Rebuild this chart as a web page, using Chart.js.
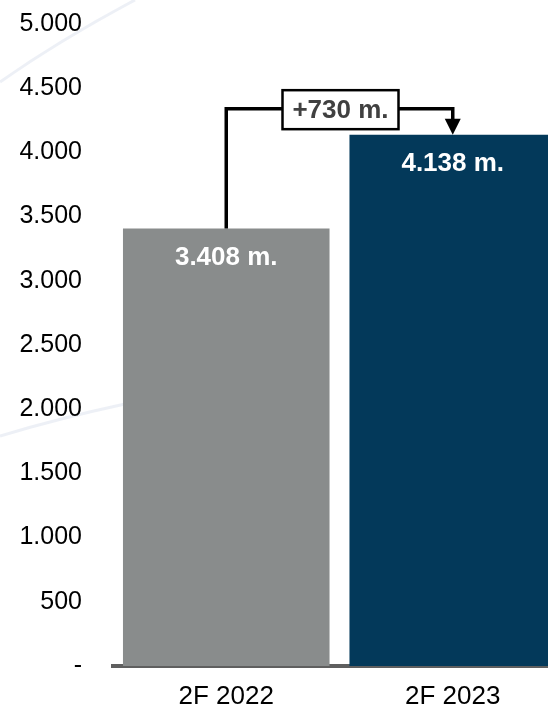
<!DOCTYPE html>
<html>
<head>
<meta charset="utf-8">
<script src="https://cdn.jsdelivr.net/npm/chart.js@4.4.1/dist/chart.umd.min.js"></script>
<style>
  html, body { margin: 0; padding: 0; background: #ffffff; overflow: hidden; }
  #wrap { position: relative; width: 566px; height: 707px; }
</style>
</head>
<body>
<div id="wrap"><canvas id="c"></canvas></div>
<script>
// ---- data ----
const categories = ['2F 2022', '2F 2023'];
const values = [3408, 4138];
const barColors = ['#898c8c', '#03395a'];
const yTicks = [0, 500, 1000, 1500, 2000, 2500, 3000, 3500, 4000, 4500, 5000];
const yMax = 5000;
const unitSuffix = ' m.';

const FONT = '"Liberation Sans", Arial, sans-serif';

function fmt(n) {
  return String(Math.round(n)).replace(/\B(?=(\d{3})+(?!\d))/g, '.');
}

const bgPlugin = {
  id: 'bgCurves',
  beforeDraw(chart) {
    const ctx = chart.ctx;
    ctx.save();
    ctx.strokeStyle = 'rgba(215,222,234,0.45)';
    ctx.lineWidth = 3;
    ctx.beginPath();
    ctx.moveTo(0, 82);
    ctx.quadraticCurveTo(60, 40, 135, 0);
    ctx.stroke();
    ctx.beginPath();
    ctx.moveTo(0, 436);
    ctx.quadraticCurveTo(60, 418, 125, 404);
    ctx.stroke();
    ctx.restore();
  }
};

const annoPlugin = {
  id: 'anno',
  afterDatasetsDraw(chart) {
    const ctx = chart.ctx;
    const meta = chart.getDatasetMeta(0);
    const b0 = meta.data[0], b1 = meta.data[1];
    ctx.save();
    // value labels
    ctx.fillStyle = '#ffffff';
    ctx.font = 'bold 26px ' + FONT;
    ctx.textAlign = 'center';
    ctx.textBaseline = 'middle';
    meta.data.forEach((b, i) => {
      ctx.fillText(fmt(values[i]) + unitSuffix, b.x, b.y + 29);
    });
    // bracket
    const levelY = Math.min(b0.y, b1.y) - 26;
    ctx.strokeStyle = '#000000';
    ctx.lineWidth = 3.5;
    ctx.beginPath();
    ctx.moveTo(b0.x, b0.y);
    ctx.lineTo(b0.x, levelY);
    ctx.lineTo(b1.x, levelY);
    ctx.lineTo(b1.x, b1.y - 14);
    ctx.stroke();
    // arrow head
    ctx.fillStyle = '#000000';
    ctx.beginPath();
    ctx.moveTo(b1.x - 8, b1.y - 16);
    ctx.lineTo(b1.x + 8, b1.y - 16);
    ctx.lineTo(b1.x, b1.y);
    ctx.closePath();
    ctx.fill();
    // box
    const cx = (b0.x + b1.x) / 2 + 1;
    const bw = 116, bh = 39;
    ctx.fillStyle = '#ffffff';
    ctx.fillRect(cx - bw / 2, levelY - bh / 2 + 1, bw, bh);
    ctx.lineWidth = 2.5;
    ctx.strokeRect(cx - bw / 2, levelY - bh / 2 + 1, bw, bh);
    ctx.fillStyle = '#404040';
    ctx.font = 'bold 26px ' + FONT;
    ctx.fillText('+' + fmt(values[1] - values[0]) + unitSuffix, cx, levelY + 2);
    ctx.restore();
  }
};

new Chart(document.getElementById('c'), {
  type: 'bar',
  data: {
    labels: categories,
    datasets: [{
      data: values,
      backgroundColor: barColors,
      borderWidth: 0,
      categoryPercentage: 1,
      barPercentage: 0.912
    }]
  },
  options: {
    responsive: true,
    maintainAspectRatio: false,
    animation: false,
    layout: { padding: { top: 24, right: 0, left: 0, bottom: 0 } },
    plugins: { legend: { display: false }, tooltip: { enabled: false } },
    scales: {
      x: {
        grid: { display: false, drawTicks: false },
        border: { display: true, color: '#5f5f5f', width: 4 },
        ticks: { color: '#000000', font: { family: FONT, size: 26 }, padding: 15 },
        afterFit(s) { s.height = 41; s.paddingLeft = 0; s.paddingRight = 0; }
      },
      y: {
        min: 0, max: yMax,
        grid: { display: false, drawTicks: false },
        border: { display: false },
        afterBuildTicks(s) { s.ticks = yTicks.map(v => ({ value: v })); },
        ticks: {
          color: '#000000',
          font: { family: FONT, size: 25 },
          padding: 31,
          callback: v => v === 0 ? '-' : fmt(v)
        },
        afterFit(s) { s.width = 113; s.paddingTop = 0; s.paddingBottom = 0; }
      }
    }
  },
  plugins: [bgPlugin, annoPlugin]
});
</script>
</body>
</html>
